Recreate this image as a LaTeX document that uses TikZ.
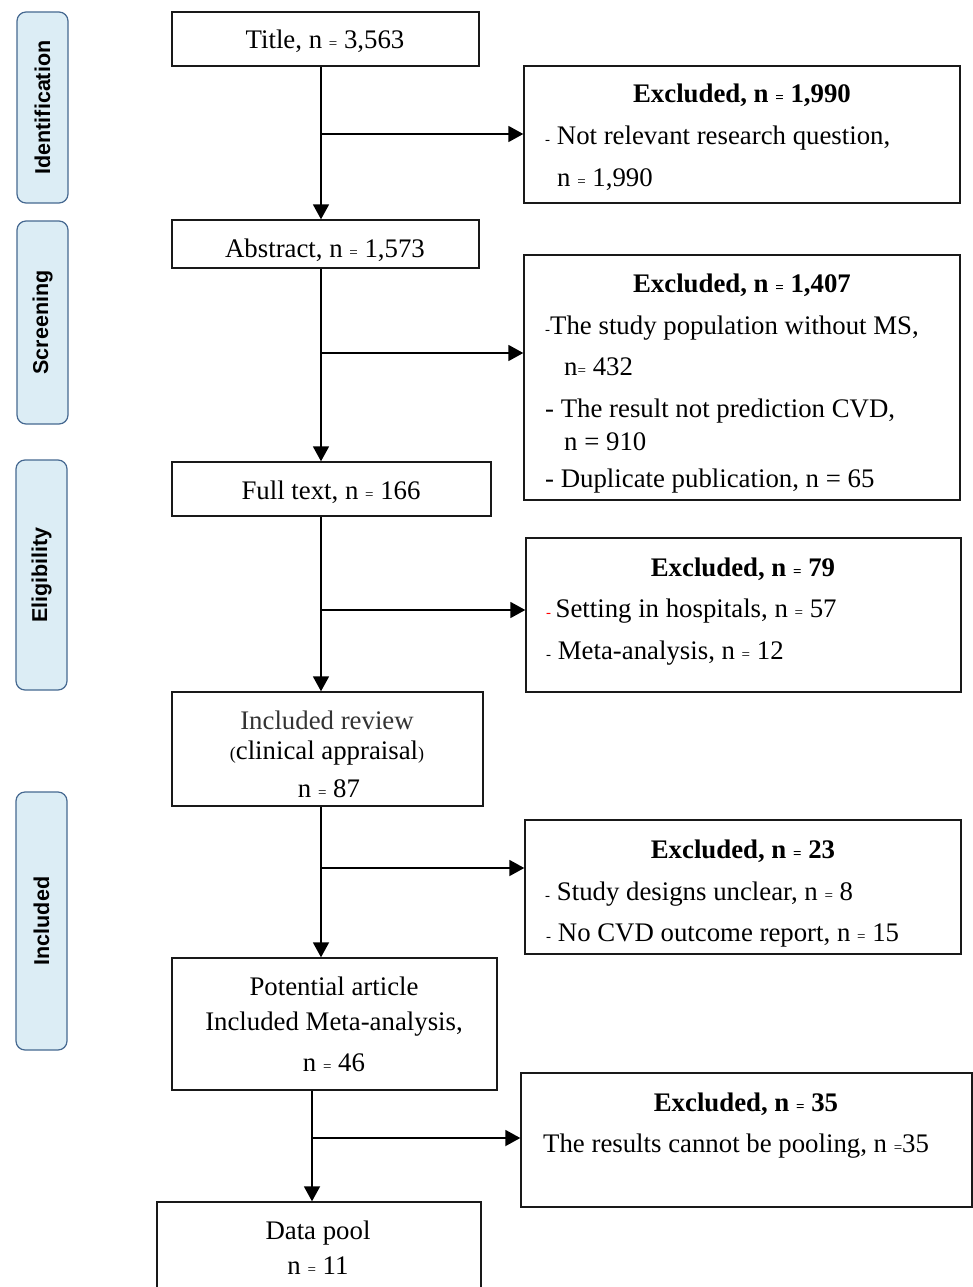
\documentclass[tikz,border=0pt]{standalone}
\usepackage{fontspec}
\setmainfont{Liberation Serif}
\newfontfamily\labfont{Liberation Sans}
\usetikzlibrary{arrows.meta}
\definecolor{stagefill}{RGB}{220,237,245}
\definecolor{stageline}{RGB}{70,105,145}
\newcommand{\eqs}{{\fontsize{15}{15}\selectfont =}}
\newcommand{\dsh}{{\fontsize{15}{15}\selectfont -}}
\begin{document}
\begin{tikzpicture}[x=1pt,y=-1pt,
  box/.style={draw=black!90,line width=1.4pt,rectangle,inner sep=0pt},
  stagebox/.style={draw=stageline,fill=stagefill,line width=1.2pt,rounded corners=9pt,rectangle,inner sep=0pt,minimum width=51pt},
  stagetext/.style={font=\labfont\bfseries\fontsize{21.5}{23}\selectfont,rotate=90},
  txt/.style={font=\fontsize{26.8}{30}\selectfont,anchor=base,inner sep=0pt},
  ltxt/.style={txt,anchor=base west},
  btxt/.style={txt,font=\bfseries\fontsize{26.8}{30}\selectfont},
  arr/.style={line width=1.8pt,-{Triangle[length=15pt,width=16pt]}}]
\useasboundingbox (0,0) rectangle (973,1287);
\fill[white] (0,0) rectangle (973,1287);

% stage labels
\node[stagebox,minimum height=191pt] (sId) at (42.5,107.5) {};
\node[stagetext] (tId) at (sId.center) {Identification};
\node[stagebox,minimum height=203pt] (sSc) at (42.5,322.5) {};
\node[stagetext] (tSc) at (sSc.center) {Screening};
\node[stagebox,minimum height=230pt] (sEl) at (41.5,575) {};
\node[stagetext] (tEl) at (sEl.center) {Eligibility};
\node[stagebox,minimum height=258pt] (sIn) at (41.5,921) {};
\node[stagetext] (tIn) at (sIn.center) {Included};

% main boxes
\node[box,minimum width=307pt,minimum height=54pt] (title) at (325.5,39) {};
\node[txt] (titleT) at (325,49) {Title, n \eqs{} 3,563};
\node[box,minimum width=307pt,minimum height=48pt] (abs) at (325.5,244) {};
\node[txt] (absT) at (325,257) {Abstract, n \eqs{} 1,573};
\node[box,minimum width=319pt,minimum height=54pt] (full) at (331.5,489) {};
\node[txt] (fullT) at (331,499) {Full text, n \eqs{} 166};
\node[box,minimum width=311pt,minimum height=114pt] (inc) at (327.5,749) {};
\node[txt,text=black!80] (incT1) at (327,729) {Included review};
\node[txt] (incT2) at (327,759) {{\fontsize{18}{18}\selectfont(}clinical appraisal{\fontsize{18}{18}\selectfont)}};
\node[txt] (incT3) at (329,797) {n \eqs{} 87};
\node[box,minimum width=325pt,minimum height=132pt] (pot) at (334.5,1024) {};
\node[txt] (potT1) at (334,995) {Potential article};
\node[txt] (potT2) at (334,1030) {Included Meta-analysis,};
\node[txt] (potT3) at (334,1071) {n \eqs{} 46};
\node[box,minimum width=324pt,minimum height=92pt] (pool) at (319,1248) {};
\node[txt] (poolT1) at (318,1239) {Data pool};
\node[txt] (poolT2) at (318,1274) {n \eqs{} 11};

% excluded boxes
\node[box,minimum width=436pt,minimum height=137pt] (ex1) at (742,134.5) {};
\node[btxt] (ex1T) at (742,103) {Excluded, n \eqs{} 1,990};
\node[ltxt] (ex1a) at (545,144) {\dsh{} Not relevant research question,};
\node[ltxt] (ex1b) at (557,186) {n \eqs{} 1,990};

\node[box,minimum width=436pt,minimum height=245pt] (ex2) at (742,377.5) {};
\node[btxt] (ex2T) at (742,292) {Excluded, n \eqs{} 1,407};
\node[ltxt] (ex2a) at (545,334) {\dsh{}The study population without MS,};
\node[ltxt] (ex2b) at (564,375) {n\eqs{} 432};
\node[ltxt] (ex2c) at (545,417) {- The result not prediction CVD,};
\node[ltxt] (ex2d) at (564,450) {n = 910};
\node[ltxt] (ex2e) at (545,487) {- Duplicate publication, n = 65};

\node[box,minimum width=435pt,minimum height=154pt] (ex3) at (743.5,615) {};
\node[btxt] (ex3T) at (743,576) {Excluded, n \eqs{} 79};
\node[ltxt] (ex3a) at (546,617) {\textcolor{red}{\dsh}\,Setting in hospitals, n \eqs{} 57};
\node[ltxt] (ex3b) at (546,659) {\dsh{} Meta-analysis, n \eqs{} 12};

\node[box,minimum width=436pt,minimum height=134pt] (ex4) at (743,887) {};
\node[btxt] (ex4T) at (743,858) {Excluded, n \eqs{} 23};
\node[ltxt] (ex4a) at (545,900) {\dsh{} Study designs unclear, n \eqs{} 8};
\node[ltxt] (ex4b) at (546,941) {\dsh{} No CVD outcome report, n \eqs{} 15};

\node[box,minimum width=451pt,minimum height=134pt] (ex5) at (746.5,1140) {};
\node[btxt] (ex5T) at (746,1111) {Excluded, n \eqs{} 35};
\node[ltxt] (ex5a) at (543,1152) {The results cannot be pooling, n \eqs{}35};

% trunk coordinates
\coordinate (k1) at (321,134);
\coordinate (k2) at (321,353);
\coordinate (k3) at (321,610);
\coordinate (k4) at (321,868);
\coordinate (k5) at (312,1138);

% connectors
\draw[arr] (title.south -| k1) -- (abs.north -| k1);
\draw[arr] (k1) -- (k1 -| ex1.west);
\draw[arr] (abs.south -| k2) -- (full.north -| k2);
\draw[arr] (k2) -- (k2 -| ex2.west);
\draw[arr] (full.south -| k3) -- (inc.north -| k3);
\draw[arr] (k3) -- (k3 -| ex3.west);
\draw[arr] (inc.south -| k4) -- (pot.north -| k4);
\draw[arr] (k4) -- (k4 -| ex4.west);
\draw[arr] (pot.south -| k5) -- (pool.north -| k5);
\draw[arr] (k5) -- (k5 -| ex5.west);
\end{tikzpicture}
\end{document}
